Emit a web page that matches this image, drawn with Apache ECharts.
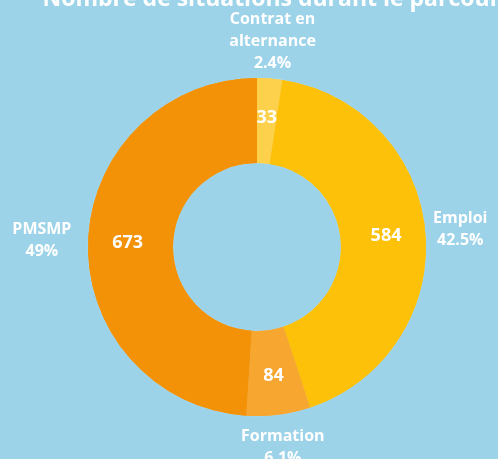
<!DOCTYPE html>
<html>
<head>
<meta charset="utf-8">
<script src="https://cdn.jsdelivr.net/npm/echarts@6/dist/echarts.min.js"></script>
<style>
html, body { margin: 0; padding: 0; background: #9dd3e9; }
#chart { width: 498px; height: 459px; }
</style>
</head>
<body>
<div id="chart"></div>
<script>
var titleText = 'Nombre de situations durant le parcours';
var categories = ['Contrat en\nalternance', 'Emploi', 'Formation', 'PMSMP'];
var values = [33, 584, 84, 673];
var colors = ['#fdd14b', '#fec10a', '#f7a62f', '#f39207'];

var myChart = echarts.init(document.getElementById('chart'));

var center = [257, 247];
var innerR = 84, outerR = 169;

var total = values.reduce(function(a, b) { return a + b; }, 0);

// angle du milieu de chaque part (depuis le haut, sens horaire)
var midAngles = [];
var acc = 0;
values.forEach(function(v) {
    midAngles.push((acc + v / 2) / total * Math.PI * 2);
    acc += v;
});

var pieData = categories.map(function(name, i) {
    return { name: name, value: values[i], itemStyle: { color: colors[i] } };
});

var option = {
    backgroundColor: '#9dd3e9',
    animation: false,
    title: {
        text: titleText,
        left: 272,
        textAlign: 'center',
        top: -17,
        textStyle: { color: '#ffffff', fontSize: 23, fontWeight: 'bold', fontFamily: 'Open Sans' }
    },
    series: [{
        type: 'pie',
        center: center,
        radius: [innerR, outerR],
        startAngle: 90,
        data: pieData,
        itemStyle: { borderColor: 'rgba(255,255,255,0.25)', borderWidth: 0.5 },
        label: {
            position: 'outside',
            color: '#ffffff',
            fontFamily: 'Open Sans',
            fontWeight: 'bold',
            fontSize: 16,
            lineHeight: 22,
            overflow: 'none',
            formatter: function(p) {
                var pct = Math.round(p.value / total * 1000) / 10;
                return p.name + '\n' + pct + '%';
            }
        },
        labelLine: { show: false },
        labelLayout: function(params) {
            var a = midAngles[params.dataIndex];
            var ux = Math.sin(a), uy = -Math.cos(a);
            var w = params.labelRect.width, h = params.labelRect.height;
            var gap = 6;
            if (ux < -0.5) gap += 10;
            if (uy < -0.5) gap -= 5;
            var d = outerR + gap + Math.abs(ux) * w / 2 + Math.abs(uy) * h / 2;
            return {
                x: center[0] + ux * d,
                y: center[1] + uy * d,
                align: 'center',
                verticalAlign: 'middle'
            };
        }
    }, {
        type: 'pie',
        center: center,
        radius: [innerR, outerR],
        startAngle: 90,
        data: pieData,
        silent: true,
        itemStyle: { color: 'transparent', borderWidth: 0 },
        label: {
            position: 'inside',
            color: '#ffffff',
            fontFamily: 'Open Sans',
            fontWeight: 'bold',
            fontSize: 18,
            formatter: '{c}'
        },
        labelLine: { show: false }
    }]
};

myChart.setOption(option, true);

window.addEventListener('resize', function() {
    myChart.resize();
});
</script>
</body>
</html>
